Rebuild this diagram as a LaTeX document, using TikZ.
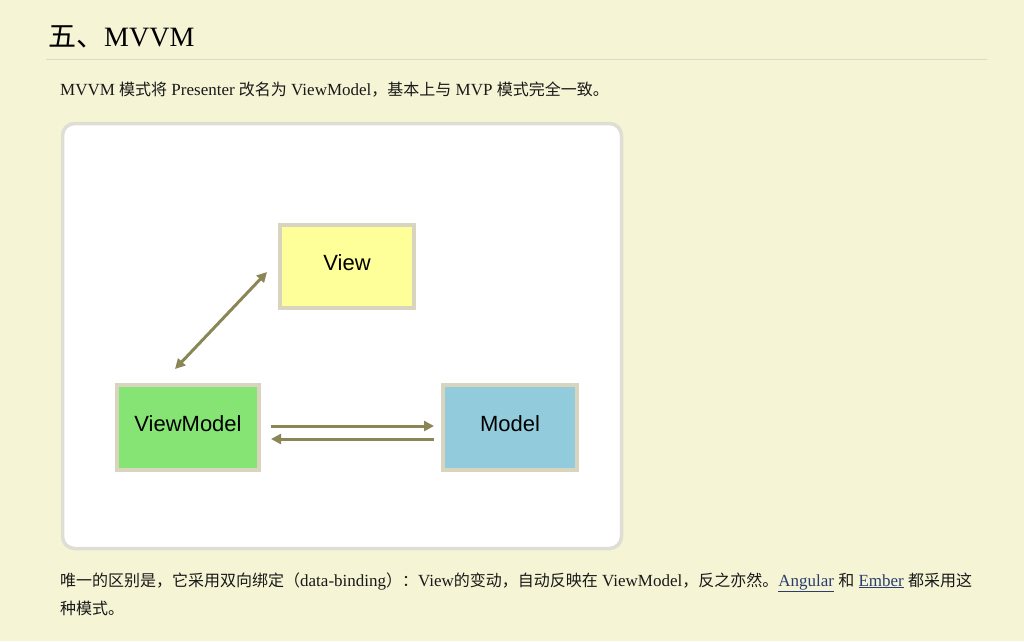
\documentclass[tikz,border=0pt]{standalone}
\usepackage{fontspec}
\setmainfont{Liberation Serif}
\newfontfamily\cjk{Noto Sans CJK SC}
\newfontfamily\dsans{Liberation Sans}
\usetikzlibrary{arrows.meta,calc}
\definecolor{bg}{RGB}{245,245,214}
\definecolor{rulec}{RGB}{218,218,206}
\definecolor{panelborder}{RGB}{222,222,212}
\definecolor{boxborder}{RGB}{216,212,190}
\definecolor{viewfill}{RGB}{255,255,153}
\definecolor{vmfill}{RGB}{133,228,116}
\definecolor{modelfill}{RGB}{146,204,220}
\definecolor{arrowc}{RGB}{138,134,86}
\definecolor{linkc}{RGB}{42,62,110}
\definecolor{textc}{RGB}{25,25,25}
\newcommand\bodyfont{\fontsize{17}{28}\selectfont}
\newcommand\zh[1]{{\cjk\fontsize{16}{28}\selectfont #1}}
\newcommand\lnk[1]{{\color{linkc}\underline{#1}}}
\tikzset{
  mbox/.style={draw=boxborder, line width=4pt, inner sep=0pt, minimum height=85pt,
    text height=16pt, text depth=8pt,
    font=\dsans\fontsize{22}{26}\selectfont, text=black},
  arr/.style={draw=arrowc, line width=3pt, {Triangle[length=10pt,width=10pt]}-{Triangle[length=10pt,width=10pt]}},
  arrr/.style={draw=arrowc, line width=3pt, -{Triangle[length=10pt,width=10pt]}},
  txt/.style={anchor=base west, inner sep=0pt, text=textc, font=\bodyfont}
}
\begin{document}
\begin{tikzpicture}[x=1pt,y=-1pt]
\fill[bg] (0,0) rectangle (1024,641);
\useasboundingbox (0,0) rectangle (1024,641);
% title and rule
\node[anchor=base west, inner sep=0pt, text=black] (title) at (48,46)
  {\fontsize{28}{32}\selectfont{\cjk 五、}MVVM};
\draw[rulec, line width=1pt] (46,59.5) -- (987,59.5);
% first paragraph
\node[txt] (p1) at (60,95)
  {MVVM \zh{模式将} Presenter \zh{改名为} ViewModel\zh{，基本上与} MVP \zh{模式完全一致。}};
% panel
\draw[panelborder, line width=3.5pt, fill=white, rounded corners=12pt] (62.5,123.5) rectangle (621.5,548.5);
% boxes
\node[mbox, fill=viewfill, minimum width=134pt, minimum height=83pt] (v) at (347,266.5) {View};
\node[mbox, fill=vmfill, minimum width=142pt] (vm) at (188,427.5) {ViewModel};
\node[mbox, fill=modelfill, minimum width=134pt] (m) at (510,427.5) {Model};
% connectors
\draw[arr] ($(vm.north)+(-13,-14)$) -- ($(v.west)+(-11,5.5)$);
\draw[arrr] ($(vm.east)+(10,-1.5)$) -- ($(m.west)+(-7,-1.5)$);
\draw[arrr] ($(m.west)+(-7,11.5)$) -- ($(vm.east)+(10,11.5)$);
% bottom paragraph
\node[txt] (p2) at (60,586)
  {\zh{唯一的区别是，它采用双向绑定（}data-binding\zh{）：}View\zh{的变动，自动反映在} ViewModel\zh{，反之亦然。}\lnk{Angular} \zh{和} \lnk{Ember} \zh{都采用这}};
\node[txt] (p3) at (60,614) {\zh{种模式。}};
\end{tikzpicture}
\end{document}
